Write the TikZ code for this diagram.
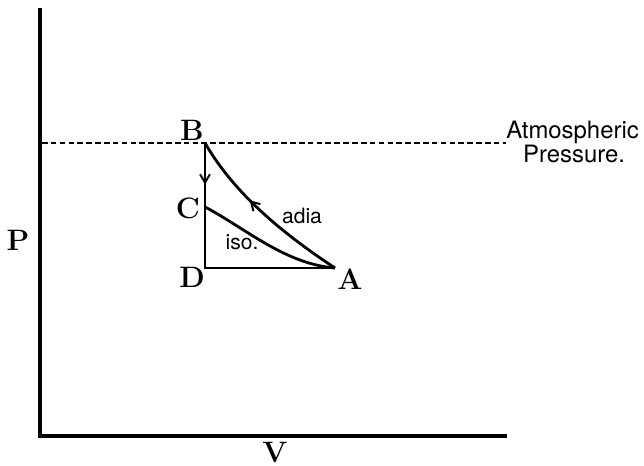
\documentclass[tikz,border=0pt]{standalone}
\usepackage{fontspec}
\newfontfamily\handfont{TeX Gyre Heros}
\usepackage{tikz}
\usetikzlibrary{arrows.meta, positioning, decorations.markings, calc}

\begin{document}
\begin{tikzpicture}[x=0.025cm, y=-0.025cm, >={Straight Barb[length=6pt,width=7pt,line width=1.4pt]},
        every node/.style={font=\fontsize{21}{24}\selectfont\bfseries},
        axislabel/.style={font=\fontsize{21}{24}\selectfont\bfseries, inner sep=0pt},
        note/.style={font=\handfont\fontsize{15}{17}\selectfont},
        curve/.style={line width=2pt},
        midarrow/.style={postaction={decorate}, decoration={markings, mark=at position #1 with {\arrow{>}}}}]
        \useasboundingbox (0,0) rectangle (644,466);
        % axes
        \coordinate (O) at (40,436);
        \coordinate (top) at (40,8);
        \coordinate (right) at (507,436);
        \draw[line width=2.2pt] (top) -- (O) -- (right);
        \node[axislabel] (P) at (18,240) {P};
        \node[axislabel] (V) at (275,452) {V};
        % cycle points
        \coordinate (b) at (205,143);
        \coordinate (c) at (205,207);
        \coordinate (d) at (205,268);
        \coordinate (a) at (335,268);
        \node (B) at (192,130) {B};
        \node (C) at (188,208) {C};
        \node (D) at (192,277) {D};
        \node (A) at (350,279) {A};
        % atmospheric line
        \node[note, font=\handfont\fontsize{17}{17}\selectfont, anchor=west, align=left, inner sep=0pt] (atm) at (506,142) {Atmospheric\\\hspace*{12pt}Pressure.};
        \draw[line width=1.4pt, dash pattern=on 4pt off 2.3pt] (42,143) -- (atm.west |- b);
        % curves
        \draw[curve, midarrow=0.65] (b) -- (c);
        \draw[curve] (c) -- (d) -- (a);
        \draw[curve, midarrow=0.6] (a) .. controls (285,235) and (235,195) .. (b);
        \draw[curve] (c) .. controls (245,228) and (285,264) .. (a);
        \node[note] (adia) at (302,216) {adia};
        \node[note] (iso) at (242,242) {iso.};
      \end{tikzpicture}
\end{document}
